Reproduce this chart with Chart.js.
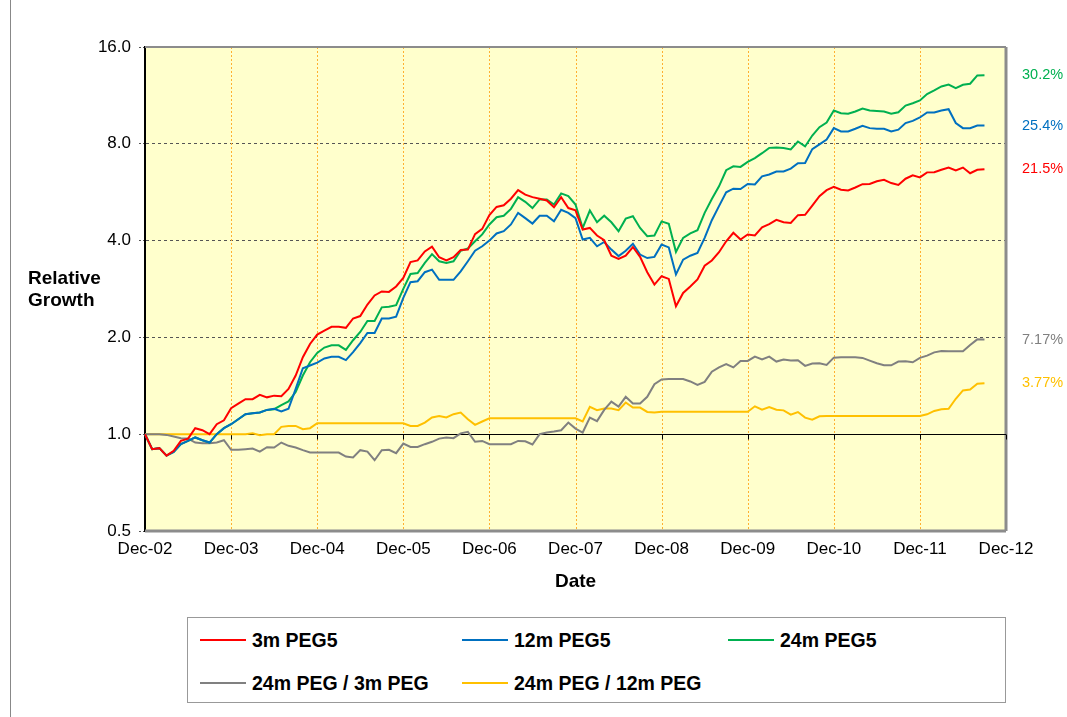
<!DOCTYPE html>
<html>
<head>
<meta charset="utf-8">
<script src="https://cdn.jsdelivr.net/npm/chart.js@4.4.0/dist/chart.umd.min.js"></script>
<style>
  body { margin: 0; background: #fff; }
  #wrap { position: relative; width: 1067px; height: 717px; }
  #frameLine { position: absolute; left: 10px; top: 0; width: 1px; height: 717px; background: #888; }
  #legend {
    position: absolute; left: 187px; top: 617px; width: 819px; height: 86px;
    border: 1px solid #999; box-sizing: border-box; background: #fff;
    font-family: Arial, "Liberation Sans", sans-serif; font-weight: bold; font-size: 19.5px;
  }
  .item { position: absolute; display: flex; align-items: center; }
  .swatch { width: 46px; height: 2px; margin-right: 6px; }
</style>
</head>
<body>
<div id="wrap">
  <canvas id="growthChart" width="1067" height="717"></canvas>
  <div id="frameLine"></div>
  <div id="legend"></div>
</div>
<script>
// --- data ---
const monthNames = ['Jan', 'Feb', 'Mar', 'Apr', 'May', 'Jun', 'Jul', 'Aug', 'Sep', 'Oct', 'Nov', 'Dec'];
const years = ['03', '04', '05', '06', '07', '08', '09', '10', '11', '12'];
const yTicks = [0.5, 1, 2, 4, 8, 16];

const seriesNames = ['3m PEG5', '12m PEG5', '24m PEG5', '24m PEG / 3m PEG', '24m PEG / 12m PEG'];
const seriesColors = ['#FF0000', '#0070C0', '#00B050', '#808080', '#FFC000'];
const endLabels = ['21.5%', '25.4%', '30.2%', '7.17%', '3.77%'];

// monthly, Dec-02 .. Sep-12
const peg3m = [
  1.0, 0.898, 0.905, 0.858, 0.888, 0.953, 0.969, 1.044, 1.029, 1.0,
  1.074, 1.105, 1.205, 1.245, 1.285, 1.285, 1.326, 1.302, 1.318, 1.312,
  1.382, 1.522, 1.735, 1.908, 2.04, 2.10, 2.158, 2.158, 2.142, 2.29,
  2.33, 2.53, 2.70, 2.78, 2.77, 2.88, 3.06, 3.43, 3.47, 3.70,
  3.83, 3.55, 3.47, 3.55, 3.74, 3.75, 4.19, 4.35, 4.80, 5.09,
  5.15, 5.40, 5.74, 5.56, 5.46, 5.40, 5.33, 5.08, 5.46, 5.05,
  4.97, 4.33, 4.38, 4.15, 4.01, 3.59, 3.51, 3.59, 3.82, 3.56,
  3.19, 2.92, 3.10, 3.04, 2.50, 2.75, 2.88, 3.03, 3.34, 3.47,
  3.68, 3.98, 4.23, 4.03, 4.18, 4.15, 4.40, 4.50, 4.64, 4.56,
  4.54, 4.80, 4.81, 5.14, 5.50, 5.74, 5.88, 5.76, 5.73, 5.85,
  5.99, 6.00, 6.12, 6.18, 6.04, 5.96, 6.23, 6.38, 6.29, 6.52,
  6.53, 6.64, 6.75, 6.61, 6.75, 6.48, 6.64, 6.67
];
const peg12m = [
  1.0, 0.898, 0.905, 0.858, 0.881, 0.931, 0.953, 0.977, 0.958, 0.942,
  1.0, 1.044, 1.074, 1.113, 1.154, 1.162, 1.168, 1.190, 1.20, 1.178,
  1.20, 1.384, 1.604, 1.635, 1.67, 1.72, 1.74, 1.74, 1.70, 1.80,
  1.92, 2.065, 2.065, 2.29, 2.29, 2.32, 2.655, 2.97, 2.99, 3.19,
  3.25, 3.02, 3.02, 3.02, 3.21, 3.45, 3.72, 3.84, 4.00, 4.21,
  4.28, 4.49, 4.88, 4.70, 4.52, 4.78, 4.78, 4.59, 4.99, 4.88,
  4.70, 4.03, 4.08, 3.84, 3.96, 3.75, 3.58, 3.72, 3.91, 3.62,
  3.53, 3.56, 3.89, 3.81, 3.14, 3.49, 3.59, 3.66, 4.08, 4.63,
  5.12, 5.65, 5.80, 5.79, 6.00, 5.98, 6.34, 6.42, 6.56, 6.56,
  6.70, 6.96, 6.97, 7.70, 7.97, 8.25, 8.95, 8.74, 8.74, 8.91,
  9.10, 8.95, 8.91, 8.91, 8.74, 8.85, 9.28, 9.43, 9.66, 10.01,
  10.01, 10.15, 10.25, 9.28, 8.95, 8.95, 9.12, 9.12
];
const peg24m = [
  1.0, 0.898, 0.905, 0.858, 0.881, 0.931, 0.953, 0.977, 0.958, 0.942,
  1.0, 1.044, 1.074, 1.113, 1.154, 1.162, 1.168, 1.190, 1.196, 1.231,
  1.265, 1.352, 1.522, 1.674, 1.79, 1.86, 1.89, 1.89, 1.83, 1.96,
  2.08, 2.25, 2.25, 2.48, 2.49, 2.52, 2.83, 3.15, 3.17, 3.41,
  3.63, 3.45, 3.41, 3.45, 3.72, 3.78, 3.98, 4.18, 4.49, 4.73,
  4.78, 5.02, 5.46, 5.28, 5.05, 5.37, 5.37, 5.18, 5.61, 5.50,
  5.18, 4.38, 4.96, 4.56, 4.78, 4.56, 4.28, 4.68, 4.76, 4.38,
  4.13, 4.15, 4.59, 4.51, 3.69, 4.08, 4.21, 4.31, 4.88, 5.39,
  5.90, 6.62, 6.81, 6.78, 7.03, 7.22, 7.48, 7.77, 7.79, 7.76,
  7.68, 8.13, 7.85, 8.49, 9.01, 9.32, 10.15, 9.96, 9.92, 10.08,
  10.30, 10.15, 10.12, 10.08, 9.92, 10.03, 10.52, 10.70, 10.91, 11.42,
  11.72, 12.06, 12.23, 11.92, 12.21, 12.30, 13.05, 13.08
];
const ratio24over3 = [
  1.0, 1.0, 1.0, 0.995, 0.983, 0.972, 0.969, 0.942, 0.938, 0.938,
  0.942, 0.958, 0.894, 0.894, 0.898, 0.902, 0.883, 0.911, 0.909, 0.942,
  0.920, 0.909, 0.892, 0.877, 0.877, 0.877, 0.877, 0.877, 0.852, 0.846,
  0.892, 0.883, 0.830, 0.892, 0.894, 0.873, 0.935, 0.913, 0.913, 0.931,
  0.947, 0.969, 0.976, 0.972, 1.006, 1.017, 0.947, 0.953, 0.931, 0.931,
  0.931, 0.931, 0.953, 0.951, 0.929, 1.0, 1.012, 1.019, 1.029, 1.087,
  1.041, 1.012, 1.127, 1.098, 1.19, 1.263, 1.219, 1.307, 1.246, 1.246,
  1.307, 1.43, 1.48, 1.484, 1.484, 1.484, 1.459, 1.424, 1.455, 1.564,
  1.613, 1.652, 1.613, 1.69, 1.69, 1.744, 1.707, 1.743, 1.682, 1.706,
  1.694, 1.698, 1.631, 1.658, 1.662, 1.643, 1.730, 1.735, 1.735, 1.735,
  1.727, 1.694, 1.662, 1.638, 1.638, 1.682, 1.686, 1.674, 1.727, 1.755,
  1.797, 1.815, 1.81, 1.81, 1.81, 1.894, 1.972, 1.97
];
const ratio24over12 = [
  1.0, 1.0, 1.0, 1.0, 1.0, 1.0, 1.0, 1.0, 1.0, 1.0,
  1.0, 1.0, 1.0, 1.0, 1.0, 1.007, 0.993, 1.0, 1.0, 1.054,
  1.061, 1.061, 1.036, 1.044, 1.082, 1.082, 1.082, 1.082, 1.082, 1.082,
  1.082, 1.082, 1.082, 1.082, 1.082, 1.082, 1.082, 1.061, 1.061, 1.087,
  1.127, 1.140, 1.127, 1.154, 1.168, 1.113, 1.069, 1.095, 1.121, 1.121,
  1.121, 1.121, 1.121, 1.121, 1.121, 1.121, 1.121, 1.121, 1.121, 1.121,
  1.121, 1.095, 1.216, 1.188, 1.202, 1.202, 1.188, 1.255, 1.21, 1.21,
  1.173, 1.168, 1.175, 1.175, 1.175, 1.175, 1.175, 1.175, 1.175, 1.175,
  1.175, 1.175, 1.175, 1.175, 1.175, 1.221, 1.192, 1.215, 1.192, 1.186,
  1.150, 1.172, 1.126, 1.110, 1.137, 1.14, 1.14, 1.14, 1.14, 1.14,
  1.14, 1.14, 1.14, 1.14, 1.14, 1.14, 1.14, 1.14, 1.14, 1.153,
  1.181, 1.195, 1.2, 1.289, 1.368, 1.377, 1.435, 1.44
];

const seriesData = [peg3m, peg12m, peg24m, ratio24over3, ratio24over12];

// month labels Dec-02 .. Dec-12
const labels = ['Dec-02'];
years.forEach(y => monthNames.forEach(m => labels.push(m + '-' + y)));

const FONT = 'Arial, "Liberation Sans", sans-serif';

// --- plot background, frame, year lines, 1.0 line, end labels, y title ---
const decorations = {
    id: 'decorations',
    beforeDraw(chart) {
        const { ctx, chartArea: a } = chart;
        ctx.save();
        ctx.fillStyle = '#FFFFCC';
        ctx.fillRect(a.left, a.top, a.right - a.left, a.bottom - a.top);
        ctx.restore();
    },
    beforeDatasetsDraw(chart) {
        const { ctx, chartArea: a, scales } = chart;
        ctx.save();

        // dotted orange year lines
        ctx.strokeStyle = '#FFB030';
        ctx.lineWidth = 1;
        ctx.setLineDash([2, 2]);
        ctx.beginPath();
        labels.forEach((l, i) => {
            if (i % 12 === 0 && i > 0 && i < labels.length - 1) {
                const x = Math.round(scales.x.getPixelForValue(i)) + 0.5;
                ctx.moveTo(x, a.top); ctx.lineTo(x, a.bottom);
            }
        });
        ctx.stroke();
        ctx.setLineDash([]);

        ctx.strokeStyle = '#8c8c8c';
        ctx.lineWidth = 2;
        ctx.beginPath();
        ctx.moveTo(a.left, a.top); ctx.lineTo(a.right, a.top);
        ctx.stroke();
        ctx.lineWidth = 3;
        ctx.beginPath();
        ctx.moveTo(a.right, a.top); ctx.lineTo(a.right, a.bottom);
        ctx.moveTo(a.left, a.bottom); ctx.lineTo(a.right, a.bottom);
        ctx.stroke();

        // x axis crosses at 1.0
        const y1 = Math.round(scales.y.getPixelForValue(1)) + 0.5;
        ctx.strokeStyle = '#000';
        ctx.lineWidth = 1;
        ctx.beginPath();
        ctx.moveTo(a.left, y1); ctx.lineTo(a.right, y1);
        labels.forEach((l, i) => {
            if (i % 12 === 0 && i > 0) {
                const x = Math.round(scales.x.getPixelForValue(i)) + 0.5;
                ctx.moveTo(x, y1); ctx.lineTo(x, y1 + 5);
            }
        });
        ctx.stroke();
        ctx.restore();
    },
    afterDatasetsDraw(chart) {
        const { ctx } = chart;
        ctx.save();
        ctx.font = '14.5px ' + FONT;
        ctx.textAlign = 'left';
        ctx.textBaseline = 'middle';
        chart.data.datasets.forEach((ds, i) => {
            const pts = chart.getDatasetMeta(i).data;
            const last = pts[ds.data.length - 1];
            ctx.fillStyle = seriesColors[i];
            ctx.fillText(endLabels[i], 1022, last.y);
        });
        ctx.restore();
    },
    afterDraw(chart) {
        const { ctx } = chart;
        ctx.save();
        ctx.font = 'bold 19px ' + FONT;
        ctx.fillStyle = '#000';
        ctx.textAlign = 'left';
        ctx.textBaseline = 'middle';
        ctx.fillText('Relative', 28, 279);
        ctx.fillText('Growth', 28, 301);
        ctx.restore();
    }
};

const growthChart = new Chart(document.getElementById('growthChart'), {
    type: 'line',
    data: {
        labels: labels,
        datasets: seriesNames.map((name, i) => ({
            label: name,
            data: seriesData[i],
            borderColor: seriesColors[i],
            backgroundColor: seriesColors[i],
            borderWidth: 2,
            pointRadius: 0,
            tension: 0,
            fill: false
        }))
    },
    options: {
        responsive: false,
        animation: false,
        devicePixelRatio: 1,
        layout: { padding: { left: 0, right: 61, top: 47, bottom: 124 } },
        plugins: {
            legend: { display: false },
            tooltip: { enabled: false }
        },
        scales: {
            x: {
                type: 'category',
                afterFit: s => { s.height = 62; },
                ticks: {
                    autoSkip: false,
                    maxRotation: 0,
                    padding: 8,
                    color: '#000',
                    font: { family: FONT, size: 17 },
                    callback: (v, i) => (i % 12 === 0 ? labels[i] : '')
                },
                grid: { display: false, drawTicks: false },
                border: { display: false },
                title: {
                    display: true,
                    text: 'Date',
                    color: '#000',
                    font: { family: FONT, size: 19, weight: 'bold' },
                    padding: { top: 0, bottom: 0 }
                }
            },
            y: {
                type: 'logarithmic',
                min: 0.5,
                max: 16,
                afterFit: s => { s.width = 145; },
                afterBuildTicks: s => { s.ticks = yTicks.map(v => ({ value: v })); },
                ticks: {
                    padding: 8,
                    color: '#000',
                    font: { family: FONT, size: 17 },
                    callback: v => Number(v).toFixed(1)
                },
                grid: {
                    lineWidth: 1,
                    color: c => ([2, 4, 8].includes(c.tick && c.tick.value) ? '#555' : 'transparent'),
                    tickColor: '#555',
                    tickLength: 6,
                    tickBorderDash: [2, 2]
                },
                border: { display: true, color: '#000', width: 2, dash: [3, 3] }
            }
        }
    },
    plugins: [decorations]
});

// --- legend (3 columns, 2 rows) ---
const legendBox = document.getElementById('legend');
const colX = [12, 274, 540];
const rowY = [22, 65];
growthChart.data.datasets.forEach((ds, i) => {
    const item = document.createElement('div');
    item.className = 'item';
    item.style.left = colX[i % 3] + 'px';
    item.style.top = (rowY[Math.floor(i / 3)] - 12) + 'px';
    item.style.height = '24px';
    const sw = document.createElement('span');
    sw.className = 'swatch';
    sw.style.background = ds.borderColor;
    const tx = document.createElement('span');
    tx.textContent = ds.label;
    item.appendChild(sw);
    item.appendChild(tx);
    legendBox.appendChild(item);
});
</script>
</body>
</html>
